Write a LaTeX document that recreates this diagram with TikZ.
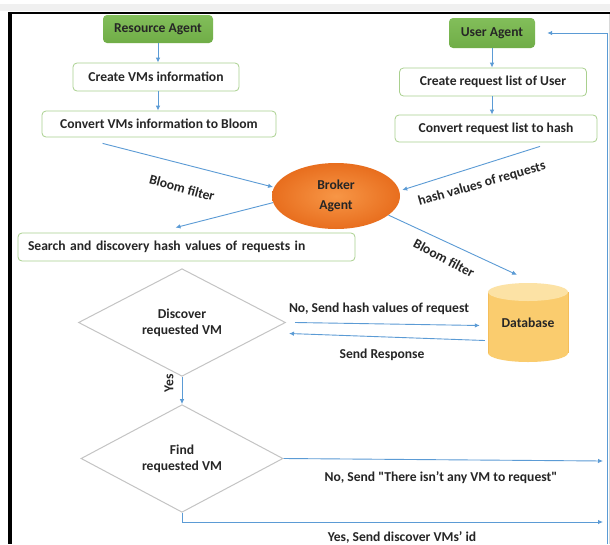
\documentclass[tikz,border=0pt]{standalone}
\usepackage{fontspec}
\setmainfont{Carlito}
\usetikzlibrary{arrows.meta,shapes.geometric,calc}
\definecolor{arrblue}{RGB}{91,155,213}
\definecolor{txt}{RGB}{38,38,38}
\definecolor{boxline}{RGB}{169,208,142}
\definecolor{agentgreen}{RGB}{112,173,71}
\definecolor{agenttop}{RGB}{130,190,90}
\definecolor{brokerin}{RGB}{247,150,70}
\definecolor{brokerout}{RGB}{232,110,30}
\definecolor{dbbody}{RGB}{250,204,110}
\definecolor{dbtop}{RGB}{252,226,165}
\definecolor{dbline}{RGB}{245,190,90}
\definecolor{diagline}{RGB}{196,196,196}
\tikzset{
  every node/.style={font=\fontsize{13.6}{16}\selectfont\bfseries, text=txt},
  agent/.style={rounded corners=4pt, top color=agenttop, bottom color=agentgreen, inner sep=0pt},
  stepbox/.style={draw=boxline, line width=0.8pt, rounded corners=4pt, fill=white, inner sep=0pt},
  decision/.style={diamond, draw=diagline, line width=1pt, fill=white, inner sep=0pt, align=center},
  arr/.style={draw=arrblue, line width=0.9pt, -{Latex[length=5pt,width=4.5pt]}},
  lbl/.style={inner sep=0pt}
}
\begin{document}
\begin{tikzpicture}[x=1pt,y=-1pt]
\useasboundingbox (0,0) rectangle (610,544);
\fill[white] (0,0) rectangle (610,544);
\fill[gray!12] (0,4) rectangle (610,11);
\draw[gray!30, line width=1pt] (609,13) -- (609,544);
\draw[black, line width=1.6pt] (8,13) -- (610,13);
\draw[black, line width=4pt] (10,12) -- (10,544);

% left column
\node[agent, minimum width=110pt, minimum height=28pt] (ra) at (158,29) {Resource Agent};
\node[stepbox, minimum width=166pt, minimum height=28pt] (cvm) at (156,77) {Create VMs information};
\node[stepbox, minimum width=234pt, minimum height=26pt] (cvb) at (159,124) {Convert VMs information to Bloom};

% right column
\node[agent, minimum width=86pt, minimum height=30pt] (ua) at (492,33) {User Agent};
\node[stepbox, minimum width=187pt, minimum height=28pt] (crl) at (493,82) {Create request list of User};
\node[stepbox, minimum width=202pt, minimum height=27pt] (crh) at (496,128.5) {Convert request list to hash};

% broker
\node[ellipse, inner color=brokerin, outer color=brokerout, minimum width=128pt, minimum height=66pt, align=center, font=\fontsize{13.6}{20}\selectfont\bfseries] (broker) at (336,196) {Broker\\Agent};

% search box
\node[stepbox, text width=317pt, inner xsep=10pt, minimum height=28pt, align=left] (search) at (186.5,247) {Search and discovery hash values of requests in};

% decisions
\node[decision, minimum width=207pt, minimum height=81pt] (disc) at (182,322.5) {Discover\\requested VM};
\node[decision, minimum width=202pt, minimum height=93pt] (find) at (182,458.5) {Find\\requested VM};

% database
\fill[dbbody] (488,292) rectangle (568,353);
\fill[dbbody] (528,353) ellipse [x radius=40pt, y radius=9pt];
\draw[dbline, line width=0.6pt] (488,292) -- (488,353) (568,292) -- (568,353);
\fill[dbtop] (528,292) ellipse [x radius=40pt, y radius=9pt];
\node[minimum width=80pt, minimum height=79pt, inner sep=0pt] (db) at (528,322.5) {Database};

% coordinates for free ends
\coordinate (rb) at (607,544);
\coordinate (nr) at (603,461);
\coordinate (yr) at (603,522);

% connectors
\draw[arr] (ra.south) -- (ra.south |- cvm.north);
\draw[arr] (ra.south |- cvm.south) -- (ra.south |- cvb.north);
\draw[arr] (ua.south) -- (ua.south |- crl.north);
\draw[arr] (ua.south |- crl.south) -- (ua.south |- crh.north);
\draw[arr, shorten >=1pt] ($(cvb.south west)+(61,6)$) -- (broker.172);
\draw[arr] ($(crh.south)+(44,4)$) -- ($(broker.east)+(2,-6)$);
\draw[arr] (broker.186) -- ($(search.north)+(-11,-5)$);
\draw[arr] (broker.-20) -- ($(db.north)+(-11,-8)$);
\draw[arr] ($(disc.east)+(9,0)$) -- ($(db.west)+(-8,3)$);
\draw[arr] ($(db.west)+(-3,18)$) -- ($(disc.east)+(3,11)$);
\draw[arr] (disc.south) -- (find.north);
\draw[arr] (find.east) -- (nr);
\draw[arr] (find.south) |- (yr);
\draw[arr, shorten >=12pt] (rb) |- (ua.east);

% labels
\node[lbl, rotate=-15] at (182,188) {Bloom filter};
\node[lbl, rotate=16] at (482,184) {hash values of requests};
\node[lbl, rotate=-28] at (444,258) {Bloom filter};
\node[lbl] at (379,309) {No, Send hash values of request};
\node[lbl] at (382,355) {Send Response};
\node[lbl, rotate=90] at (169,383) {Yes};
\node[lbl] at (441,478) {No, Send \textquotedbl There isn't any VM to request\textquotedbl};
\node[lbl] at (402,537) {Yes, Send discover VMs' id};
\end{tikzpicture}
\end{document}
